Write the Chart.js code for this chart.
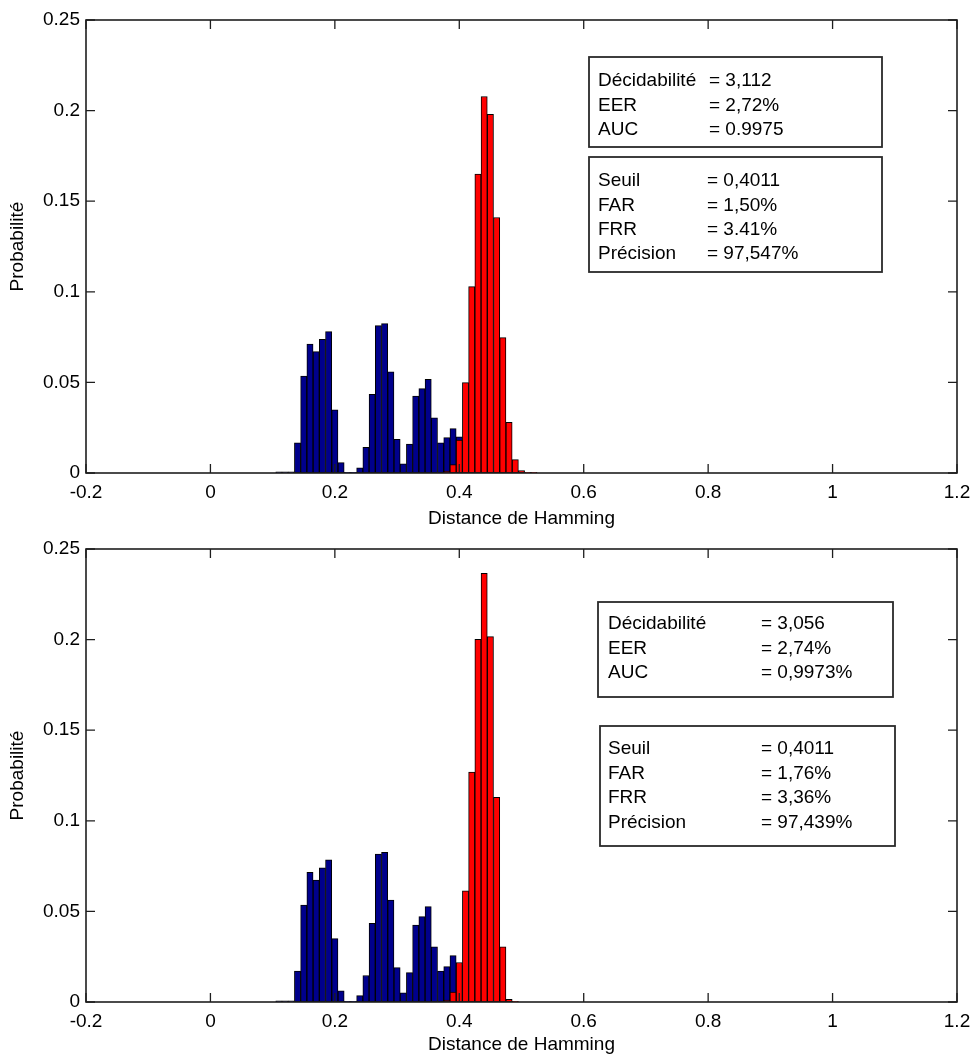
<!DOCTYPE html>
<html>
<head>
<meta charset="utf-8">
<script src="https://cdn.jsdelivr.net/npm/chart.js@4/dist/chart.umd.min.js"></script>
<style>
html, body { margin: 0; padding: 0; background: #fff; }
canvas { position: absolute; left: 0; }
</style>
</head>
<body>
<canvas id="c1" width="974" height="528" style="top:0px"></canvas>
<canvas id="c2" width="974" height="528" style="top:528px"></canvas>
<script>
// ---------- data ----------
const xTickLabels = ['-0.2', '0', '0.2', '0.4', '0.6', '0.8', '1', '1.2'];
const yTickLabels = ['0', '0.05', '0.1', '0.15', '0.2', '0.25'];
const xTitle = 'Distance de Hamming';
const yTitle = 'Probabilité';

// bin centres (blue = intra-classe, red = inter-classe)
const blueCenters = [0.11, 0.12, 0.13, 0.14, 0.15, 0.16, 0.17, 0.18, 0.19, 0.20,
                     0.21, 0.22, 0.23, 0.24, 0.25, 0.26, 0.27, 0.28, 0.29, 0.30,
                     0.31, 0.32, 0.33, 0.34, 0.35, 0.36, 0.37, 0.38, 0.39, 0.40];
const redCentersTop = [0.38, 0.39, 0.40, 0.41, 0.42, 0.43, 0.44, 0.45, 0.46, 0.47, 0.48, 0.49, 0.50, 0.51, 0.52];
const redCentersBottom = [0.38, 0.39, 0.40, 0.41, 0.42, 0.43, 0.44, 0.45, 0.46, 0.47, 0.48, 0.49];

const blueTop = [0.0006, 0.0006, 0.0006, 0.0167, 0.0535, 0.0712, 0.0670, 0.0738, 0.0780, 0.0348,
                 0.0057, 0.0004, 0.0004, 0.0028, 0.0142, 0.0434, 0.0813, 0.0824, 0.0559, 0.0186,
                 0.0050, 0.0160, 0.0425, 0.0466, 0.0517, 0.0305, 0.0167, 0.0195, 0.0245, 0.0200];
const redTop = [0.0009, 0.0046, 0.0182, 0.0499, 0.1029, 0.1650, 0.2078, 0.1980, 0.1410, 0.0747,
                0.0280, 0.0074, 0.0013, 0.0004, 0.0004];

const blueBottom = [0.0006, 0.0006, 0.0006, 0.0171, 0.0535, 0.0715, 0.0673, 0.0741, 0.0784, 0.0350,
                    0.0061, 0.0004, 0.0004, 0.0035, 0.0146, 0.0434, 0.0817, 0.0826, 0.0563, 0.0190,
                    0.0051, 0.0162, 0.0425, 0.0471, 0.0526, 0.0305, 0.0171, 0.0195, 0.0256, 0.0205];
const redBottom = [0.0011, 0.0055, 0.0218, 0.0613, 0.1269, 0.2002, 0.2366, 0.2016, 0.1130, 0.0305,
                   0.0015, 0.0004];

const statLabels1 = ['Décidabilité', 'EER', 'AUC'];
const statValuesTop1 = ['= 3,112', '= 2,72%', '= 0.9975'];
const statValuesBottom1 = ['= 3,056', '= 2,74%', '= 0,9973%'];
const statLabels2 = ['Seuil', 'FAR', 'FRR', 'Précision'];
const statValuesTop2 = ['= 0,4011', '= 1,50%', '= 3.41%', '= 97,547%'];
const statValuesBottom2 = ['= 0,4011', '= 1,76%', '= 3,36%', '= 97,439%'];

// ---------- styling ----------
const FONT = '"Liberation Sans", Arial, Helvetica, sans-serif';
const FS = 19;
const BLUE = 'rgb(0,0,140)';
const RED = 'rgb(255,0,0)';
Chart.defaults.font.family = FONT;
Chart.defaults.font.size = FS;
Chart.defaults.color = '#000';

const toPts = (xs, ys) => xs.map((x, i) => ({ x: x, y: ys[i] }));

const framePlugin = {
  id: 'frame',
  afterDatasetsDraw(chart) {
    const { ctx, chartArea: a, scales: { x, y } } = chart;
    ctx.save();
    ctx.strokeStyle = '#1e1e1e';
    ctx.lineWidth = 1.6;
    ctx.strokeRect(a.left, a.top, a.right - a.left, a.bottom - a.top);
    ctx.lineWidth = 1.3;
    ctx.beginPath();
    const TL = 9;
    x.ticks.forEach(t => {
      const p = x.getPixelForValue(t.value);
      ctx.moveTo(p, a.bottom); ctx.lineTo(p, a.bottom - TL);
      ctx.moveTo(p, a.top); ctx.lineTo(p, a.top + TL);
    });
    y.ticks.forEach(t => {
      const p = y.getPixelForValue(t.value);
      ctx.moveTo(a.left, p); ctx.lineTo(a.left + TL, p);
      ctx.moveTo(a.right, p); ctx.lineTo(a.right - TL, p);
    });
    ctx.stroke();
    ctx.restore();
  }
};

const statPlugin = {
  id: 'statBoxes',
  afterDraw(chart, args, opts) {
    const ctx = chart.ctx;
    ctx.save();
    (opts.boxes || []).forEach(b => {
      ctx.fillStyle = '#fff';
      ctx.fillRect(b.x0, b.y0, b.x1 - b.x0, b.y1 - b.y0);
      ctx.strokeStyle = '#2a2a2a';
      ctx.lineWidth = 1.8;
      ctx.strokeRect(b.x0, b.y0, b.x1 - b.x0, b.y1 - b.y0);
      ctx.fillStyle = '#000';
      ctx.font = FS + 'px ' + FONT;
      ctx.textBaseline = 'alphabetic';
      ctx.textAlign = 'left';
      b.labels.forEach((l, i) => {
        ctx.fillText(l, b.tx, b.baselines[i]);
        ctx.fillText(b.values[i], b.vx, b.baselines[i]);
      });
    });
    ctx.restore();
  }
};

function makeChart(id, blueVals, redCenters, redVals, pad, xHeight, boxes) {
  return new Chart(document.getElementById(id), {
    type: 'bar',
    data: {
      datasets: [
        {
          data: toPts(blueCenters, blueVals),
          backgroundColor: BLUE,
          borderColor: '#000',
          borderWidth: 1,
          borderSkipped: false,
          grouped: false,
          barPercentage: 1,
          categoryPercentage: 1,
          order: 2
        },
        {
          data: toPts(redCenters, redVals),
          backgroundColor: RED,
          borderColor: '#000',
          borderWidth: 1,
          borderSkipped: false,
          grouped: false,
          barPercentage: 1,
          categoryPercentage: 1,
          order: 1
        }
      ]
    },
    options: {
      responsive: false,
      animation: false,
      devicePixelRatio: 1,
      layout: { padding: pad },
      plugins: {
        legend: { display: false },
        tooltip: { enabled: false },
        statBoxes: { boxes: boxes }
      },
      scales: {
        x: {
          type: 'linear',
          min: -0.2,
          max: 1.2,
          offset: false,
          grid: { display: false, offset: false, drawTicks: false },
          border: { display: false },
          ticks: {
            stepSize: 0.2,
            autoSkip: false,
            maxRotation: 0,
            padding: 8,
            callback: (v, i) => xTickLabels[i]
          },
          title: { display: true, text: xTitle, font: { size: FS, lineHeight: 1 }, padding: { top: 0, bottom: 0 } },
          afterFit: s => { s.height = xHeight; s.paddingLeft = 0; s.paddingRight = 0; }
        },
        y: {
          min: 0,
          max: 0.25,
          grid: { display: false, drawTicks: false },
          border: { display: false },
          ticks: {
            stepSize: 0.05,
            padding: 6,
            callback: (v, i) => yTickLabels[i]
          },
          title: { display: true, text: yTitle, font: { size: FS, lineHeight: 1 }, padding: { top: 8.5, bottom: 0 } },
          afterFit: s => { s.width = 86; s.paddingTop = 0; s.paddingBottom = 0; }
        }
      }
    },
    plugins: [framePlugin, statPlugin]
  });
}

makeChart('c1', blueTop, redCentersTop, redTop,
  { top: 20, right: 17, bottom: 0, left: 0 }, 55,
  [
    { x0: 589, y0: 57, x1: 882, y1: 147, tx: 598, vx: 709, baselines: [86, 111, 135], labels: statLabels1, values: statValuesTop1 },
    { x0: 589, y0: 157, x1: 882, y1: 272, tx: 598, vx: 707, baselines: [186, 211, 235, 259], labels: statLabels2, values: statValuesTop2 }
  ]);

makeChart('c2', blueBottom, redCentersBottom, redBottom,
  { top: 21, right: 17, bottom: 2, left: 0 }, 52,
  [
    { x0: 598, y0: 74, x1: 893, y1: 169, tx: 608, vx: 761, baselines: [101, 126, 150], labels: statLabels1, values: statValuesBottom1 },
    { x0: 600, y0: 198, x1: 895, y1: 318, tx: 608, vx: 761, baselines: [226, 251, 275, 300], labels: statLabels2, values: statValuesBottom2 }
  ]);
</script>
</body>
</html>
